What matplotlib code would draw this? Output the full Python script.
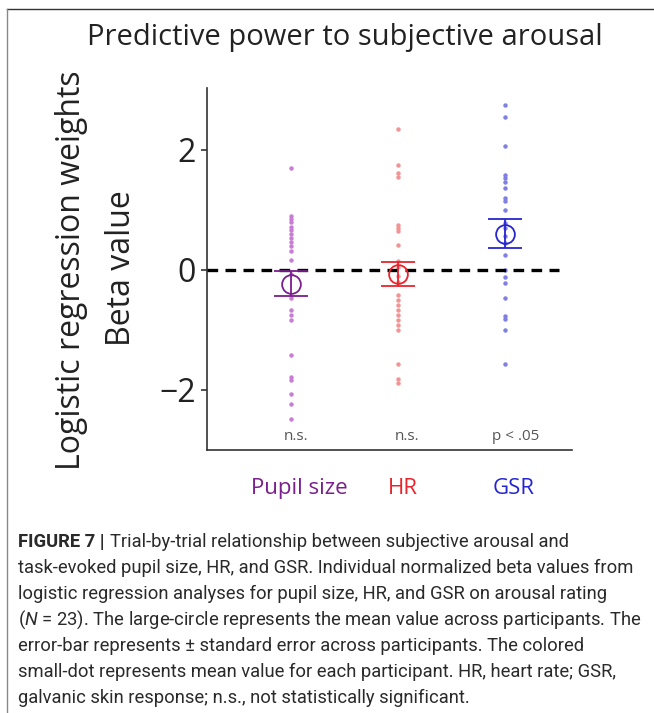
import matplotlib
matplotlib.use('Agg')
import matplotlib.pyplot as plt
from matplotlib.lines import Line2D

# data
categories = ['Pupil size', 'HR', 'GSR']
sig_labels = ['n.s.', 'n.s.', 'p < .05']
pupil_beta = [1.69, 0.90, 0.84, 0.79, 0.72, 0.66, 0.60, 0.53, 0.46, 0.39, 0.31, 0.17,
              -0.06, -0.47, -0.67, -0.75, -0.83, -1.42, -1.78, -1.84, -2.06, -2.23, -2.49]
hr_beta = [2.34, 1.75, 1.61, 1.54, 0.75, 0.69, 0.64, 0.41, 0.15, 0.05, -0.10, -0.20,
           -0.42, -0.50, -0.58, -0.67, -0.75, -0.83, -0.92, -1.00, -1.56, -1.82, -1.89]
gsr_beta = [2.75, 2.54, 2.06, 1.58, 1.53, 1.47, 1.36, 1.19, 1.14, 1.00, 0.78, 0.70,
            0.56, 0.45, 0.25, 0.00, -0.11, -0.22, -0.47, -0.76, -0.82, -1.00, -1.56]
mean_beta = [-0.23, -0.07, 0.60]
se_beta = [0.21, 0.20, 0.24]
yticks = [-2, 0, 2]

dot_colors = ['#c77dd3', '#f39494', '#7f7fe4']
main_colors = ['#7a1f8d', '#e8242c', '#2626cf']

caption = [
    'Trial-by-trial relationship between subjective arousal and',
    'task-evoked pupil size, HR, and GSR. Individual normalized beta values from',
    'logistic regression analyses for pupil size, HR, and GSR on arousal rating',
    '($N$ = 23). The large-circle represents the mean value across participants. The',
    'error-bar represents \u00b1 standard error across participants. The colored',
    'small-dot represents mean value for each participant. HR, heart rate; GSR,',
    'galvanic skin response; n.s., not statistically significant.',
]

plt.rcParams['font.family'] = ['Open Sans', 'DejaVu Sans']
plt.rcParams['axes.unicode_minus'] = True
plt.rcParams['mathtext.fontset'] = 'custom'
plt.rcParams['mathtext.it'] = 'Roboto:italic'
plt.rcParams['mathtext.rm'] = 'Roboto'

W, H = 654, 713
fig = plt.figure(figsize=(W / 100, H / 100), dpi=100)
ax = fig.add_axes([207 / W, 1 - 450 / H, (572 - 207) / W, (450 - 88) / H])

xs = [1, 2, 3]
for x, vals, c in zip(xs, [pupil_beta, hr_beta, gsr_beta], dot_colors):
    ax.plot([x] * len(vals), vals, 'o', color=c, ms=3.2, mec='none', zorder=2)

ax.plot([0.215, 3.51], [0, 0], color='black', lw=2.4, ls=(0, (3.2, 2.2)), zorder=3)

for x, m, s, c in zip(xs, mean_beta, se_beta, main_colors):
    ax.errorbar(x, m, yerr=s, fmt='o', ms=13.5, mfc='none', mec=c, mew=1.3,
                color=c, elinewidth=1.3, capsize=12.5, capthick=1.3, zorder=4)

for x, t in zip([1.05, 2.09, 3.1], sig_labels):
    ax.text(x, -2.78, t, ha='center', va='center', fontsize=11, color='#555555')

ax.set_xlim(0.215, 3.63)
ax.set_ylim(-3.0, 3.03)
ax.set_xticks([])
ax.set_yticks(yticks)
ax.set_yticklabels(['\u22122', '0', '2'])
ax.tick_params(axis='y', direction='out', length=4, width=1.1, labelsize=23, pad=4, colors='#222222')
for side in ['top', 'right']:
    ax.spines[side].set_visible(False)
for side in ['left', 'bottom']:
    ax.spines[side].set_linewidth(1.2)
    ax.spines[side].set_color('#333333')

# category names under the axis
for x, name, c in zip([1.08, 2.05, 3.08], categories, main_colors):
    ax.text(x, -3.64, name, ha='center', va='center', fontsize=16, color=c)

fig.text(345 / W, 1 - 38 / H, 'Predictive power to subjective arousal',
         ha='center', va='center', fontsize=21, color='#222222')
fig.text(72 / W, 1 - 270 / H, 'Logistic regression weights', rotation=90,
         ha='center', va='center', fontsize=23, color='#222222')
fig.text(121 / W, 1 - 268 / H, 'Beta value', rotation=90,
         ha='center', va='center', fontsize=23, color='#222222')

# panel frame: top and left edges only
fig.add_artist(Line2D([7 / W, 1], [1 - 9 / H, 1 - 9 / H], color='#333333', lw=1.0,
                      transform=fig.transFigure))
fig.add_artist(Line2D([7 / W, 7 / W], [0, 1 - 9 / H], color='#888888', lw=1.0,
                      transform=fig.transFigure))

# caption
fig.canvas.draw()
renderer = fig.canvas.get_renderer()
cap_font = dict(family=['Roboto', 'DejaVu Sans'], fontsize=13.2, color='#2a2a2a')
bold = fig.text(18 / W, 1 - 547 / H, 'FIGURE 7 |', va='baseline', fontweight='bold', **cap_font)
bb = bold.get_window_extent(renderer)
fig.text((bb.x1 + 5) / W, 1 - 547 / H, caption[0], va='baseline', **cap_font)
for i, line in enumerate(caption[1:], start=1):
    fig.text(18 / W, 1 - (547 + 26 * i) / H, line, va='baseline', **cap_font)

fig.savefig('out.png', dpi=100)
